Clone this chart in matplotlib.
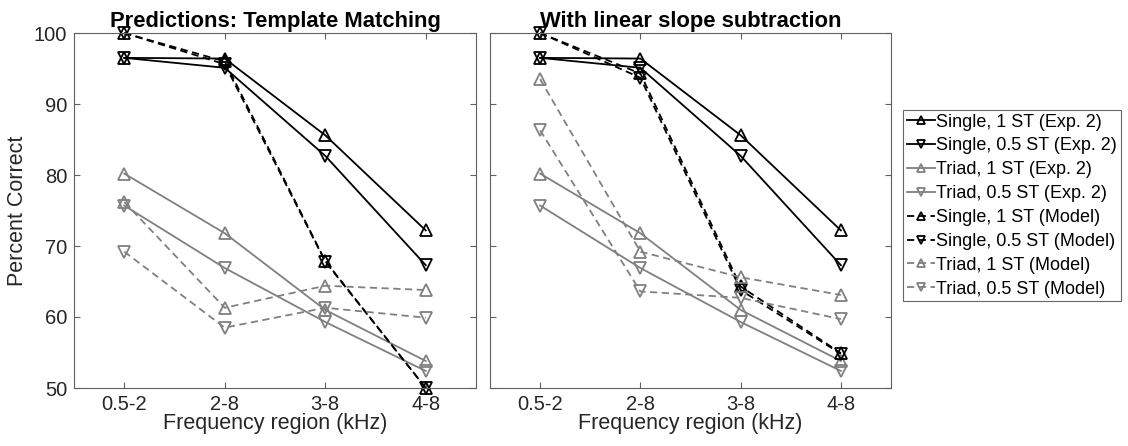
import numpy as np
import matplotlib.pyplot as plt

plt.rcParams['font.family'] = ['Liberation Sans', 'DejaVu Sans']

regions = ['0.5-2', '2-8', '3-8', '4-8']

# experiment 2 data (same in both panels)
single_1st_exp = [96.5, 96.4, 85.6, 72.2]
single_05st_exp = [96.5, 95.1, 82.7, 67.3]
triad_1st_exp = [80.2, 71.8, 61.0, 53.8]
triad_05st_exp = [75.7, 66.9, 59.3, 52.4]

# model: template matching
tm_single_1st = [100.0, 96.0, 67.9, 50.0]
tm_single_05st = [100.0, 95.6, 67.8, 50.0]
tm_triad_1st = [76.2, 61.3, 64.4, 63.8]
tm_triad_05st = [69.2, 58.5, 61.3, 59.9]

# model: with linear slope subtraction
ls_single_1st = [100.0, 94.3, 64.3, 54.9]
ls_single_05st = [100.0, 93.7, 63.8, 54.8]
ls_triad_1st = [93.5, 69.2, 65.6, 63.1]
ls_triad_05st = [86.3, 63.6, 62.7, 59.7]

titles = ['Predictions: Template Matching', 'With linear slope subtraction']
labels = ['Single, 1 ST (Exp. 2)', 'Single, 0.5 ST (Exp. 2)',
          'Triad, 1 ST (Exp. 2)', 'Triad, 0.5 ST (Exp. 2)',
          'Single, 1 ST (Model)', 'Single, 0.5 ST (Model)',
          'Triad, 1 ST (Model)', 'Triad, 0.5 ST (Model)']

gray = '#808080'
W, H = 1128, 446
fig = plt.figure(figsize=(W / 100, H / 100), dpi=100)
ax1 = fig.add_axes([74 / W, 58 / H, 402 / W, 355 / H])
ax2 = fig.add_axes([490 / W, 58 / H, 401 / W, 355 / H])

x = np.arange(len(regions))
models = [(tm_single_1st, tm_single_05st, tm_triad_1st, tm_triad_05st),
          (ls_single_1st, ls_single_05st, ls_triad_1st, ls_triad_05st)]

for ax, title, mod in zip([ax1, ax2], titles, models):
    series = [single_1st_exp, single_05st_exp, triad_1st_exp, triad_05st_exp] + list(mod)
    styles = [('k', '^', '-'), ('k', 'v', '-'), (gray, '^', '-'), (gray, 'v', '-'),
              ('k', '^', '--'), ('k', 'v', '--'), (gray, '^', '--'), (gray, 'v', '--')]
    for vals, (c, m, ls), lab in zip(series, styles, labels):
        line, = ax.plot(x, vals, color=c, marker=m, linestyle=ls, lw=1.3,
                        markersize=8, markerfacecolor='none', markeredgewidth=1.3,
                        label=lab, clip_on=False)
        if ls == '--':
            line.set_dashes((4, 2.5))
    ax.set_xlim(-0.5, 3.5)
    ax.set_ylim(50, 100)
    ax.set_xticks(x)
    ax.set_xticklabels(regions)
    ax.set_yticks(np.arange(50, 101, 10))
    ax.tick_params(direction='in', top=True, right=True, length=4, color='#606060',
                   labelsize=14.5, labelcolor='#262626', pad=5)
    for s in ax.spines.values():
        s.set_color('#606060')
    ax.set_title(title, fontsize=15.8, fontweight='bold', pad=4)
    ax.set_xlabel('Frequency region (kHz)', fontsize=15.5, color='#262626', labelpad=-1)

ax1.set_ylabel('Percent Correct', fontsize=15.5, color='#262626')
ax2.set_yticklabels([])

leg = ax2.legend(loc='upper left', bbox_to_anchor=(903 / W, 1 - 110 / H), bbox_transform=fig.transFigure,
                 fontsize=13, frameon=True, fancybox=False, handlelength=1.6, handletextpad=0.05,
                 borderaxespad=0, borderpad=0.2, labelspacing=0.38, markerscale=0.75)
leg.get_frame().set_edgecolor('#404040')
leg.get_frame().set_linewidth(0.8)

fig.savefig('out.png', dpi=100)
